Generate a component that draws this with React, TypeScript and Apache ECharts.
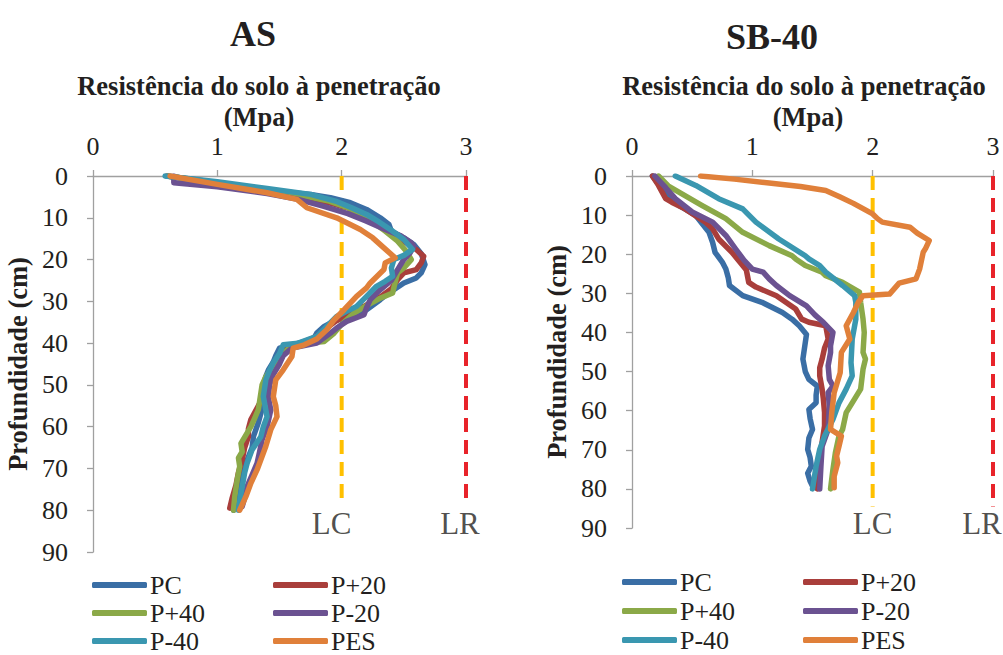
import React, { useEffect, useRef } from "react";
import * as echarts from "echarts";

const seriesNames = ["PC", "P+20", "P+40", "P-20", "P-40", "PES"];
const seriesColors = ["#3A6EA5", "#A93E3B", "#8BA948", "#6B5291", "#3A97B0", "#E0803A"];
const panelTitles = ["AS", "SB-40"];
const xAxisTitle = "Resistência do solo à penetração";
const xAxisUnit = "(Mpa)";
const yAxisTitle = "Profundidade (cm)";
const xTickMax = 3;
const yTickMax = 90;
const limitNames = ["LC", "LR"];
const limitValues = [2, 3];
const limitColors = ["#FFC000", "#E8232A"];
const limitDepthAS = 79;
const limitDepthSB = 84.5;

// [resistance (MPa), depth (cm)]
const asPC = [[0.59,0],[0.8,0.8],[1.0,1.6],[1.2,2.4],[1.4,3.2],[1.6,4.0],[1.75,4.4],[1.91,5.2],[2.07,6.4],[2.2,8.0],[2.31,10],[2.38,11.6],[2.4,13.2],[2.5,14.8],[2.58,16.4],[2.64,18.6],[2.67,21.2],[2.64,23.2],[2.6,24.4],[2.5,25.6],[2.44,26.8],[2.36,28.4],[2.31,29.6],[2.2,32.0],[2.05,33.6],[1.95,34.6],[1.86,36],[1.8,37.6],[1.77,39.2],[1.6,40.4],[1.5,41.2],[1.47,43],[1.45,44.5],[1.41,46.5],[1.39,48],[1.37,50],[1.36,52],[1.37,54.5],[1.35,56.8],[1.33,59],[1.29,62.4],[1.28,65],[1.24,68],[1.21,70.5],[1.18,72.8],[1.16,76],[1.13,80]];
const asP20 = [[0.6,0],[1.0,1.8],[1.4,3.6],[1.7,5.0],[1.9,6.4],[2.05,7.6],[2.2,9.6],[2.32,12],[2.38,13.6],[2.5,15.6],[2.6,17.6],[2.66,19.2],[2.64,20.8],[2.6,22.4],[2.5,23.2],[2.45,24.8],[2.4,27],[2.3,29.2],[2.18,31.2],[2.05,33],[1.95,34.8],[1.88,36.4],[1.8,38.4],[1.65,40.2],[1.53,41],[1.5,43],[1.45,45],[1.42,47],[1.4,50],[1.38,52.5],[1.33,55],[1.27,58.3],[1.25,60.5],[1.25,62.4],[1.22,65],[1.2,68],[1.17,71],[1.15,74],[1.12,77],[1.1,79.5]];
const asP40 = [[0.6,0],[1.0,1.7],[1.4,3.4],[1.7,4.8],[1.9,6.0],[2.05,7.6],[2.15,9.2],[2.25,11],[2.35,13.2],[2.45,15.6],[2.52,18],[2.56,20],[2.5,22],[2.45,23.2],[2.43,25.5],[2.41,28],[2.3,29.4],[2.2,31],[2.1,32.8],[2.0,35.5],[1.94,37.6],[1.86,39.6],[1.6,40.4],[1.52,43],[1.45,45.6],[1.39,48],[1.36,50],[1.35,52],[1.33,55.9],[1.3,58],[1.27,60],[1.22,62.5],[1.19,64],[1.2,66],[1.17,67.5],[1.18,69.5],[1.16,72.7],[1.14,76.7],[1.13,80]];
const asM20 = [[0.65,0],[0.65,1.6],[1.0,2.6],[1.4,4.2],[1.65,5.6],[1.85,7.2],[2.05,9.0],[2.2,10.8],[2.35,12.8],[2.48,14.4],[2.56,16],[2.58,16.8],[2.55,18.4],[2.5,20],[2.45,22.4],[2.4,25],[2.3,27.5],[2.23,29.6],[2.2,31.5],[2.18,33.2],[2.04,34.8],[1.96,36.4],[1.91,37.6],[1.8,40],[1.6,41.2],[1.53,43],[1.5,45],[1.45,47.5],[1.42,50],[1.41,53],[1.43,56],[1.4,60],[1.36,63.1],[1.34,66],[1.32,68.7],[1.28,71.5],[1.24,74.3],[1.22,77],[1.2,79.1]];
const asM40 = [[0.58,0],[1.0,1.4],[1.4,3.0],[1.75,4.4],[1.95,6.0],[2.08,7.6],[2.2,9.2],[2.3,11],[2.4,13],[2.5,15.2],[2.57,17.6],[2.5,19],[2.42,20],[2.4,22],[2.41,24],[2.35,25.2],[2.28,26.4],[2.2,28.8],[2.12,31.2],[1.96,33.6],[1.88,36],[1.8,38.4],[1.65,40],[1.53,40.4],[1.5,42.5],[1.45,44.7],[1.42,46.5],[1.39,48.8],[1.37,52.8],[1.4,57.6],[1.37,60],[1.35,62.4],[1.28,65.5],[1.24,68.7],[1.22,71],[1.21,72.7],[1.19,76],[1.17,80]];
const asPES = [[0.62,0],[1.0,2.0],[1.4,4.0],[1.64,5.6],[1.72,7.6],[1.96,10],[2.15,12.8],[2.25,14.8],[2.34,17.2],[2.43,19.6],[2.35,20.8],[2.34,22.4],[2.23,25.6],[2.2,26.8],[2.12,28.8],[2.02,32],[1.94,34.4],[1.88,36.8],[1.8,39],[1.7,40.4],[1.61,41.2],[1.6,43.2],[1.53,46.4],[1.47,48.8],[1.45,52.8],[1.47,55],[1.48,57.6],[1.43,60.7],[1.39,64.7],[1.37,66.3],[1.32,70.3],[1.27,73.5],[1.23,76.7],[1.18,80]];

const sbPC = [[0.17,0],[0.25,3.3],[0.32,5.5],[0.39,7.5],[0.53,10.1],[0.64,14.4],[0.67,17],[0.69,19.5],[0.75,22],[0.78,23.8],[0.8,26],[0.81,28],[0.92,30.6],[1.08,32.3],[1.25,34.9],[1.33,36.6],[1.39,38.3],[1.45,40.5],[1.44,42.6],[1.42,46.8],[1.44,50],[1.47,52],[1.54,53.7],[1.53,56],[1.53,58],[1.47,59.7],[1.48,62],[1.5,64.8],[1.47,67],[1.46,69.9],[1.48,72],[1.49,74.2],[1.46,76],[1.48,78],[1.5,79.3]];
const sbP20 = [[0.17,0],[0.22,2.4],[0.28,5.8],[0.33,6.7],[0.44,8.4],[0.61,11.8],[0.67,13.5],[0.72,16.1],[0.83,19.5],[0.92,22.9],[0.95,24],[0.97,27.2],[1.03,28.4],[1.2,30.6],[1.36,34],[1.41,36.6],[1.47,37.4],[1.61,38.3],[1.63,41.7],[1.6,44],[1.58,46.8],[1.56,49],[1.56,51.1],[1.58,54.5],[1.59,57],[1.6,60.5],[1.6,63.9],[1.58,68],[1.56,72],[1.55,76],[1.54,80]];
const sbP40 = [[0.22,0],[0.3,2.5],[0.44,5],[0.58,7.5],[0.78,10.9],[0.92,14.4],[1.14,17.8],[1.33,20.4],[1.36,21.2],[1.44,22.9],[1.58,24.6],[1.61,25.5],[1.75,27.2],[1.89,29.7],[1.9,32.3],[1.92,36.6],[1.93,40],[1.92,45.1],[1.94,46.8],[1.92,49.4],[1.9,54.5],[1.83,58],[1.78,60.5],[1.75,64.8],[1.72,66.5],[1.69,70.8],[1.67,75],[1.65,80]];
const sbM20 = [[0.19,0],[0.28,3],[0.36,5.8],[0.5,9.2],[0.67,11.8],[0.78,15.2],[0.86,18.6],[0.93,21.5],[1.0,23.8],[1.09,24.6],[1.14,26.3],[1.2,28],[1.31,30.6],[1.45,33.2],[1.52,35.5],[1.59,37.4],[1.67,40],[1.65,43.4],[1.65,45.1],[1.63,48.5],[1.64,52],[1.67,53.7],[1.63,55.4],[1.64,58.8],[1.63,64.8],[1.58,69.1],[1.57,74.2],[1.56,80]];
const sbM40 = [[0.36,0],[0.53,2.4],[0.72,5.8],[0.92,8.4],[1.03,11.8],[1.22,16.1],[1.44,20.4],[1.47,21.2],[1.56,22.9],[1.61,24.6],[1.75,28],[1.85,30.6],[1.86,32.3],[1.86,36.6],[1.83,41.7],[1.82,47.7],[1.83,51.1],[1.78,54.5],[1.72,58],[1.67,62.2],[1.6,66.5],[1.56,69.9],[1.53,74.2],[1.5,80]];
const sbPES = [[0.57,0],[0.85,0.8],[1.14,1.8],[1.4,2.7],[1.61,3.7],[1.73,5.4],[1.84,7],[2.0,9.7],[2.04,10.9],[2.08,11.8],[2.31,13.1],[2.37,14.6],[2.47,16.5],[2.44,18.5],[2.42,19.5],[2.39,23.8],[2.36,26.3],[2.22,27.4],[2.14,30.2],[1.92,30.6],[1.88,32.3],[1.84,34.9],[1.78,38.3],[1.81,41.7],[1.74,45.1],[1.73,50.3],[1.68,55.4],[1.66,60.5],[1.65,64.8],[1.74,66.5],[1.72,69.1],[1.7,71.6],[1.71,73.3],[1.68,76.8],[1.68,79.7]];

const asData = [asPC, asP20, asP40, asM20, asM40, asPES];
const sbData = [sbPC, sbP20, sbP40, sbM20, sbM40, sbPES];

const FONT = "'Liberation Serif', 'Times New Roman', serif";
const TXT = "#231F20";
const AXIS = "#A0A0A0";

export default function App() {
  const ref = useRef<HTMLDivElement>(null);
  useEffect(() => {
    if (!ref.current) return;
    const chart = echarts.init(ref.current, null, { renderer: "svg" });
    const grids = [
      { left: 93, top: 176, width: 373, height: 376 },
      { left: 632, top: 176, width: 361, height: 352 },
    ];
    const labelOffsets = [[-10, -6], [0, -11]];
    const xAxes = grids.map((_, i) => ({
      type: "value", gridIndex: i, position: "top", min: 0, max: xTickMax, interval: 1,
      axisLine: { show: true, lineStyle: { color: AXIS, width: 1.3 } },
      axisTick: { show: true, length: 6, lineStyle: { color: AXIS, width: 1.3 } },
      splitLine: { show: false },
      axisLabel: { fontSize: 26, fontFamily: FONT, color: TXT, margin: 17 },
    }));
    const yAxes = grids.map((_, i) => ({
      type: "value", gridIndex: i, inverse: true, min: 0, max: yTickMax, interval: 10,
      name: yAxisTitle, nameLocation: "middle", nameGap: 62,
      nameTextStyle: { fontSize: 26.5, fontWeight: "bold", fontFamily: FONT, color: TXT },
      axisLine: { show: true, lineStyle: { color: AXIS, width: 1.3 } },
      axisTick: { show: true, length: 6, lineStyle: { color: AXIS, width: 1.3 } },
      splitLine: { show: false },
      axisLabel: { fontSize: 26, fontFamily: FONT, color: TXT, margin: 25 },
    }));
    const series: any[] = [];
    [asData, sbData].forEach((panel, p) => {
      const depth = p === 0 ? limitDepthAS : limitDepthSB;
      limitValues.forEach((v, k) => {
        series.push({
          type: "line", name: limitNames[k], xAxisIndex: p, yAxisIndex: p,
          data: [[v, 0], [v, depth]], showSymbol: false, silent: true,
          lineStyle: { color: limitColors[k], width: 4, type: [14, 8] },
          z: 1,
        });
        series.push({
          type: "scatter", name: limitNames[k] + "-label", xAxisIndex: p, yAxisIndex: p,
          data: [[v, depth]], symbolSize: 1, itemStyle: { color: "transparent" }, silent: true,
          label: {
            show: true, formatter: limitNames[k], position: "bottom", distance: 1,
            offset: [labelOffsets[p][k], 0],
            fontSize: 31, fontFamily: FONT, color: TXT,
          },
        });
      });
      panel.forEach((d, i) => {
        series.push({
          type: "line", name: seriesNames[i], xAxisIndex: p, yAxisIndex: p,
          data: d, showSymbol: false, symbol: "none",
          lineStyle: { color: seriesColors[i], width: 5.5, cap: "round", join: "round" },
          itemStyle: { color: seriesColors[i] },
          z: 2 + i,
        });
      });
    });
    // legend placement: two columns, three rows per panel
    const colLeft = [[92, 273], [622, 803]];
    const rowCenter = [[585, 613, 641], [582, 611, 640]];
    const legend: any[] = [];
    [0, 1].forEach((p) => {
      seriesNames.forEach((nm, i) => {
        const col = i % 2;
        const row = Math.floor(i / 2);
        legend.push({
          data: [nm], left: colLeft[p][col], top: rowCenter[p][row] - 13,
          orient: "horizontal", itemWidth: 55, itemHeight: 6, icon: "roundRect",
          selectedMode: false, padding: 0,
          textStyle: { fontSize: 26, fontFamily: FONT, color: TXT, padding: [0, 0, 0, -2] },
        });
      });
    });
    const txt = (text: string, x: number, y: number, size: number) => ({
      type: "text", x, y,
      style: { text, fontSize: size, fontWeight: "bold", fontFamily: FONT, fill: TXT, textAlign: "center", textVerticalAlign: "middle" },
    });
    chart.setOption({
      animation: false,
      backgroundColor: "#ffffff",
      textStyle: { fontFamily: FONT },
      grid: grids,
      xAxis: xAxes,
      yAxis: yAxes,
      legend,
      series,
      graphic: [
        txt(panelTitles[0], 253, 34, 36),
        txt(panelTitles[1], 772, 37, 36),
        txt(xAxisTitle, 259, 86, 26.5),
        txt(xAxisUnit, 259, 117, 26.5),
        txt(xAxisTitle, 804, 86, 26.5),
        txt(xAxisUnit, 808, 117, 26.5),
      ],
    });
    return () => chart.dispose();
  }, []);
  return <div ref={ref} style={{ position: "fixed", left: 0, top: 0, width: 1003, height: 655, background: "#fff" }} />;
}
